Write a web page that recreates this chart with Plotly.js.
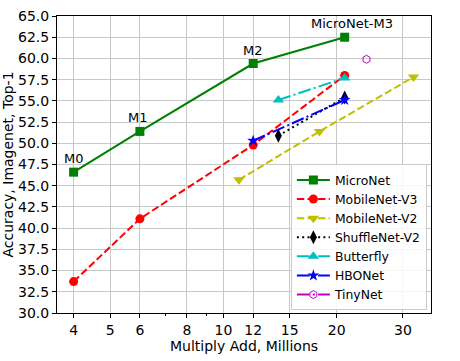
<!DOCTYPE html>
<html>
<head>
<meta charset="utf-8">
<script src="https://cdn.plot.ly/plotly-3.0.1.min.js"></script>
<style>html,body{margin:0;padding:0;background:#fff;} #chart{width:460px;height:361px;}</style>
</head>
<body>
<div id="chart"></div>
<script>
// Data
const micronetX = [4, 6, 12, 21];
const micronetY = [46.6, 51.4, 59.4, 62.5];
const micronetLabels = ["M0", "M1", "M2", "MicroNet-M3"];
const mobilenetV3X = [4, 6, 12, 21];
const mobilenetV3Y = [33.7, 41.1, 49.8, 58.0];
const mobilenetV2X = [11, 18, 32];
const mobilenetV2Y = [45.7, 51.4, 57.8];
const shufflenetX = [14, 21];
const shufflenetY = [50.9, 55.4];
const butterflyX = [14, 21];
const butterflyY = [55.1, 57.7];
const hbonetX = [12, 21];
const hbonetY = [50.3, 55.1];
const tinynetX = [24];
const tinynetY = [59.9];
const xTickVals = [4, 5, 6, 8, 10, 12, 15, 20, 30];
const yTickVals = [30, 32.5, 35, 37.5, 40, 42.5, 45, 47.5, 50, 52.5, 55, 57.5, 60, 62.5, 65];

const FONT = "DejaVu Sans, Liberation Sans, sans-serif";
const dashed = "7.4px,3.2px";
const dotted = "2px,3.3px";
const dashdot = "12.8px,3.2px,2px,3.2px";

const traces = [
  {name: "MicroNet", x: micronetX, y: micronetY, mode: "lines+markers",
   line: {color: "#008000", width: 2}, marker: {symbol: "square", size: 9, color: "#008000"}},
  {name: "MobileNet-V3", x: mobilenetV3X, y: mobilenetV3Y, mode: "lines+markers",
   line: {color: "#ff0000", width: 2, dash: dashed}, marker: {symbol: "circle", size: 9, color: "#ff0000"}},
  {name: "MobileNet-V2", x: mobilenetV2X, y: mobilenetV2Y, mode: "lines+markers",
   line: {color: "#bfbf00", width: 2, dash: dashed}, marker: {symbol: "triangle-down", size: 10, color: "#bfbf00"}},
  {name: "ShuffleNet-V2", x: shufflenetX, y: shufflenetY, mode: "lines+markers",
   line: {color: "#000000", width: 2, dash: dotted}, marker: {symbol: "diamond-tall", size: 10, color: "#000000"}},
  {name: "Butterfly", x: butterflyX, y: butterflyY, mode: "lines+markers",
   line: {color: "#00bfbf", width: 2, dash: dashdot}, marker: {symbol: "triangle-up", size: 10, color: "#00bfbf"}},
  {name: "HBONet", x: hbonetX, y: hbonetY, mode: "lines+markers",
   line: {color: "#0000ff", width: 2, dash: dashdot}, marker: {symbol: "star", size: 9, color: "#0000ff"}},
  {name: "TinyNet", x: tinynetX, y: tinynetY, mode: "lines+markers",
   line: {color: "#bf00bf", width: 2, dash: dashdot}, marker: {symbol: "hexagon-open", size: 8, color: "#bf00bf", line: {width: 1}}}
];

const annotations = micronetX.map((x, i) => ({
  x: Math.log10(x), y: micronetY[i], xref: "x", yref: "y", text: micronetLabels[i],
  showarrow: false, xanchor: "center", yanchor: "bottom", yshift: 4,
  xshift: i === micronetX.length - 1 ? 7 : (i === 1 ? -2 : 0),
  font: {family: FONT, size: 13, color: "#000"}
}));

const layout = {
  width: 460, height: 361,
  margin: {l: 57, r: 29, t: 16, b: 48, pad: 0},
  paper_bgcolor: "#fff", plot_bgcolor: "#fff",
  font: {family: FONT, size: 14, color: "#000"},
  showlegend: true,
  legend: {x: 0.989, y: 0.009, xanchor: "right", yanchor: "bottom",
    bgcolor: "rgba(255,255,255,0.85)", bordercolor: "#cccccc", borderwidth: 1,
    font: {family: FONT, size: 12.4, color: "#000"}, itemwidth: 33, tracegroupgap: 0},
  xaxis: {type: "log", range: [0.5579, 1.5516], tickvals: xTickVals, ticktext: xTickVals.map(String),
    showgrid: true, gridcolor: "#c8c8c8", gridwidth: 1,
    showline: true, linecolor: "#000", linewidth: 1, mirror: true,
    ticks: "outside", ticklen: 4, tickcolor: "#000",
    minor: {tickvals: [7, 9], ticks: "outside", ticklen: 2, tickcolor: "#000", showgrid: false},
    zeroline: false,
    title: {text: "Multiply Add, Millions", font: {family: FONT, size: 14}, standoff: 0},
    tickfont: {family: FONT, size: 14}},
  yaxis: {range: [30, 65], tickvals: yTickVals, tickformat: ".1f",
    showgrid: true, gridcolor: "#c8c8c8", gridwidth: 1,
    showline: true, linecolor: "#000", linewidth: 1, mirror: true,
    ticks: "outside", ticklen: 4, tickcolor: "#000", zeroline: false,
    title: {text: "Accuracy, Imagenet, Top-1", font: {family: FONT, size: 14}, standoff: 4},
    tickfont: {family: FONT, size: 14}},
  annotations: annotations
};

Plotly.newPlot("chart", traces, layout, {staticPlot: true, displayModeBar: false});
</script>
</body>
</html>
